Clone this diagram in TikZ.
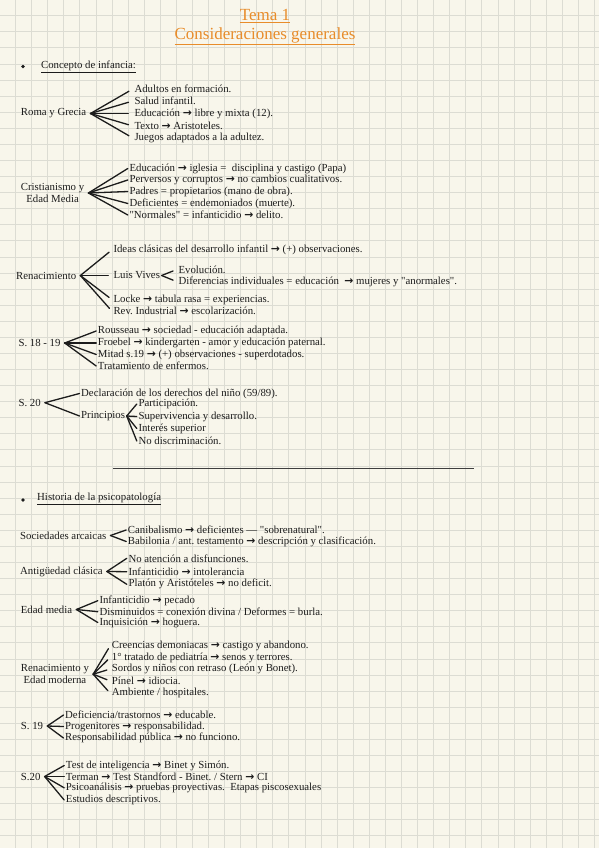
\documentclass[tikz,border=0pt]{standalone}
\usepackage{fontspec}
\setmainfont{Liberation Serif}
\newfontfamily\arrowfont{DejaVu Sans}
\definecolor{paper}{RGB}{248,246,235}
\definecolor{gridline}{RGB}{220,220,211}
\definecolor{ink}{RGB}{28,28,28}
\definecolor{titleorange}{RGB}{232,140,42}
\newcommand{\flecha}{{\arrowfont\bfseries →}}
\frenchspacing

\begin{document}
\begin{tikzpicture}[x=1pt,y=-1pt]
  \tikzset{LabelStyle/.style = {anchor=west,inner xsep=4pt,inner ysep=1pt,align=center,text=ink,font=\fontsize{10.8}{12}\selectfont},
           ItemStyle/.style = {anchor=west,inner sep=1.5pt,text=ink,font=\fontsize{10.8}{12}\selectfont},
           DotStyle/.style = {circle,fill=ink,inner sep=0pt,minimum size=3.8pt},
           TitleStyle/.style = {text=titleorange,inner sep=1pt,font=\fontsize{17}{20}\selectfont},
           EdgeStyle/.style = {draw=ink,line width=1.3pt,line cap=round}}
\useasboundingbox (0,0) rectangle (599,848);
\clip (0,0) rectangle (599,848);
\fill[paper] (0,0) rectangle (599,848);
\begin{scope}[shift={(15.5,15.7)}]
\draw[gridline,line width=0.8pt,step=16.08pt] (-16.08,-16.08) grid (600,850);
\end{scope}
%
\node[TitleStyle] (v0) at (265,16) {\underline{Tema 1}};
\node[TitleStyle] (v1) at (265,36.5) {\underline{Consideraciones generales}};
\node[DotStyle] (v2) at (23,66.5) {};
\node[ItemStyle] (v3) at (39.4,67) {\underline{Concepto de infancia:}};
\node[LabelStyle] (v4) at (16.7,113.5) {Roma y Grecia};
\node[ItemStyle] (v5) at (132.8,89) {Adultos en formación.};
\node[ItemStyle] (v6) at (132.8,101) {Salud infantil.};
\node[ItemStyle] (v7) at (132.8,113.5) {Educación \flecha{} libre y mixta (12).};
\node[ItemStyle] (v8) at (132.8,126) {Texto \flecha{} Aristoteles.};
\node[ItemStyle] (v9) at (132.8,138) {Juegos adaptados a la adultez.};
\node[LabelStyle] (v10) at (16.7,193) {Cristianismo y\\Edad Media};
\node[ItemStyle] (v11) at (127.8,168.5) {Educación \flecha{} iglesia = \ disciplina y castigo (Papa)};
\node[ItemStyle] (v12) at (127.8,180) {Perversos y corruptos \flecha{} no cambios cualitativos.};
\node[ItemStyle] (v13) at (127.8,191.5) {Padres = propietarios (mano de obra).};
\node[ItemStyle] (v14) at (127.8,203.5) {Deficientes = endemoniados (muerte).};
\node[ItemStyle] (v15) at (127.8,215) {\textquotedbl Normales\textquotedbl{} = infanticidio \flecha{} delito.};
\node[LabelStyle] (v16) at (12,275.5) {Renacimiento};
\node[ItemStyle] (v17) at (111.8,250) {Ideas clásicas del desarrollo infantil \flecha{} (+) observaciones.};
\node[ItemStyle] (v18) at (111.8,275.5) {Luis Vives};
\node[ItemStyle] (v19) at (176.8,269.5) {Evolución.};
\node[ItemStyle] (v20) at (176.8,281.7) {Diferencias individuales = educación \ \flecha{} mujeres y \textquotedbl anormales\textquotedbl .};
\node[ItemStyle] (v21) at (111.8,299.5) {Locke \flecha{} tabula rasa = experiencias.};
\node[ItemStyle] (v22) at (111.8,311) {Rev. Industrial \flecha{} escolarización.};
\node[LabelStyle] (v23) at (14.3,343) {S. 18 - 19};
\node[ItemStyle] (v24) at (96.2,331) {Rousseau \flecha{} sociedad - educación adaptada.};
\node[ItemStyle] (v25) at (96.2,343) {Froebel \flecha{} kindergarten - amor y educación paternal.};
\node[ItemStyle] (v26) at (96.2,354.5) {Mitad s.19 \flecha{} (+) observaciones - superdotados.};
\node[ItemStyle] (v27) at (96.2,366) {Tratamiento de enfermos.};
\node[LabelStyle] (v28) at (14.3,402.7) {S. 20};
\node[ItemStyle] (v29) at (79.5,393.5) {Declaración de los derechos del niño (59/89).};
\node[ItemStyle] (v30) at (79.5,416) {Principios};
\node[ItemStyle] (v31) at (136.8,404) {Participación.};
\node[ItemStyle] (v32) at (136.8,416.5) {Supervivencia y desarrollo.};
\node[ItemStyle] (v33) at (136.8,428.5) {Interés superior};
\node[ItemStyle] (v34) at (136.8,441) {No discriminación.};
\node[DotStyle] (v35) at (23,500) {};
\node[ItemStyle] (v36) at (35.5,499) {\underline{Historia de la psicopatología}};
\node[LabelStyle] (v37) at (16,535.5) {Sociedades arcaicas};
\node[ItemStyle] (v38) at (126.2,530) {Canibalismo \flecha{} deficientes — \textquotedbl sobrenatural\textquotedbl .};
\node[ItemStyle] (v39) at (126.2,541.5) {Babilonia / ant. testamento \flecha{} descripción y clasificación.};
\node[LabelStyle] (v40) at (16,571.5) {Antigüedad clásica};
\node[ItemStyle] (v41) at (126.8,558.3) {No atención a disfunciones.};
\node[ItemStyle] (v42) at (126.8,571.7) {Infanticidio \flecha{} intolerancia};
\node[ItemStyle] (v43) at (126.8,584.3) {Platón y Aristóteles \flecha{} no deficit.};
\node[LabelStyle] (v44) at (16.7,609.5) {Edad media};
\node[ItemStyle] (v45) at (97.8,600.7) {Infanticidio \flecha{} pecado};
\node[ItemStyle] (v46) at (97.8,611.7) {Disminuidos = conexión divina / Deformes = burla.};
\node[ItemStyle] (v47) at (97.8,622.5) {Inquisición \flecha{} hoguera.};
\node[LabelStyle] (v48) at (16.7,674.2) {Renacimiento y\\Edad moderna};
\node[ItemStyle] (v49) at (110.2,645.7) {Creencias demoniacas \flecha{} castigo y abandono.};
\node[ItemStyle] (v50) at (110.2,657.5) {1° tratado de pediatría \flecha{} senos y terrores.};
\node[ItemStyle] (v51) at (110.2,669) {Sordos y niños con retraso (León y Bonet).};
\node[ItemStyle] (v52) at (110.2,681) {Pínel \flecha{} idiocia.};
\node[ItemStyle] (v53) at (110.2,693.3) {Ambiente / hospitales.};
\node[LabelStyle] (v54) at (16.7,726) {S. 19};
\node[ItemStyle] (v55) at (63.5,715) {Deficiencia/trastornos \flecha{} educable.};
\node[ItemStyle] (v56) at (63.5,726.5) {Progenitores \flecha{} responsabilidad.};
\node[ItemStyle] (v57) at (63.5,738) {Responsabilidad pública \flecha{} no funciono.};
\node[LabelStyle] (v58) at (16.7,776.5) {S.20};
\node[ItemStyle] (v59) at (64.2,765.5) {Test de inteligencia \flecha{} Binet y Simón.};
\node[ItemStyle] (v60) at (64.2,776.5) {Terman \flecha{} Test Standford - Binet. / Stern \flecha{} CI};
\node[ItemStyle] (v61) at (64.2,787.8) {Psicoanálisis \flecha{} pruebas proyectivas. \ Etapas piscosexuales};
\node[ItemStyle] (v62) at (64.2,800) {Estudios descriptivos.};
%
\draw[ink!85,line width=1.3pt] (113,468.3) -- (473.5,468.3);
%
\draw[EdgeStyle,shorten >=4.5pt] (v4.east) -- (v5.west);
\draw[EdgeStyle,shorten >=4.5pt] (v4.east) -- (v6.west);
\draw[EdgeStyle,shorten >=4.5pt] (v4.east) -- (v7.west);
\draw[EdgeStyle,shorten >=4.5pt] (v4.east) -- (v8.west);
\draw[EdgeStyle,shorten >=4.5pt] (v4.east) -- (v9.west);
\draw[EdgeStyle] (v10.east) -- (v11.west);
\draw[EdgeStyle] (v10.east) -- (v12.west);
\draw[EdgeStyle] (v10.east) -- (v13.west);
\draw[EdgeStyle] (v10.east) -- (v14.west);
\draw[EdgeStyle] (v10.east) -- (v15.west);
\draw[EdgeStyle,shorten >=3.5pt] (v16.east) -- (v17.west);
\draw[EdgeStyle,shorten >=3.5pt] (v16.east) -- (v18.west);
\draw[EdgeStyle,shorten >=3.5pt] (v16.east) -- (v21.west);
\draw[EdgeStyle,shorten >=3.5pt] (v16.east) -- (v22.west);
\draw[EdgeStyle,shorten >=4pt] (v18.east) -- (v19.west);
\draw[EdgeStyle,shorten >=4pt] (v18.east) -- (v20.west);
\draw[EdgeStyle] (v23.east) -- (v24.west);
\draw[EdgeStyle] (v23.east) -- (v25.west);
\draw[EdgeStyle] (v23.east) -- (v26.west);
\draw[EdgeStyle] (v23.east) -- (v27.west);
\draw[EdgeStyle] (v28.east) -- (v29.west);
\draw[EdgeStyle] (v28.east) -- (v30.west);
\draw[EdgeStyle] (v30.east) -- (v31.west);
\draw[EdgeStyle] (v30.east) -- (v32.west);
\draw[EdgeStyle] (v30.east) -- (v33.west);
\draw[EdgeStyle] (v30.east) -- (v34.west);
\draw[EdgeStyle] (v37.east) -- (v38.west);
\draw[EdgeStyle] (v37.east) -- (v39.west);
\draw[EdgeStyle] (v40.east) -- (v41.west);
\draw[EdgeStyle] (v40.east) -- (v42.west);
\draw[EdgeStyle] (v40.east) -- (v43.west);
\draw[EdgeStyle] (v44.east) -- (v45.west);
\draw[EdgeStyle] (v44.east) -- (v46.west);
\draw[EdgeStyle] (v44.east) -- (v47.west);
\draw[EdgeStyle,shorten >=3.5pt] (v48.east) -- (v49.west);
\draw[EdgeStyle,shorten >=3.5pt] (v48.east) -- (v50.west);
\draw[EdgeStyle,shorten >=3.5pt] (v48.east) -- (v51.west);
\draw[EdgeStyle,shorten >=3.5pt] (v48.east) -- (v52.west);
\draw[EdgeStyle,shorten >=3.5pt] (v48.east) -- (v53.west);
\draw[EdgeStyle] (v54.east) -- (v55.west);
\draw[EdgeStyle] (v54.east) -- (v56.west);
\draw[EdgeStyle] (v54.east) -- (v57.west);
\draw[EdgeStyle] (v58.east) -- (v59.west);
\draw[EdgeStyle] (v58.east) -- (v60.west);
\draw[EdgeStyle] (v58.east) -- (v61.west);
\draw[EdgeStyle] (v58.east) -- (v62.west);
\end{tikzpicture}
\end{document}
